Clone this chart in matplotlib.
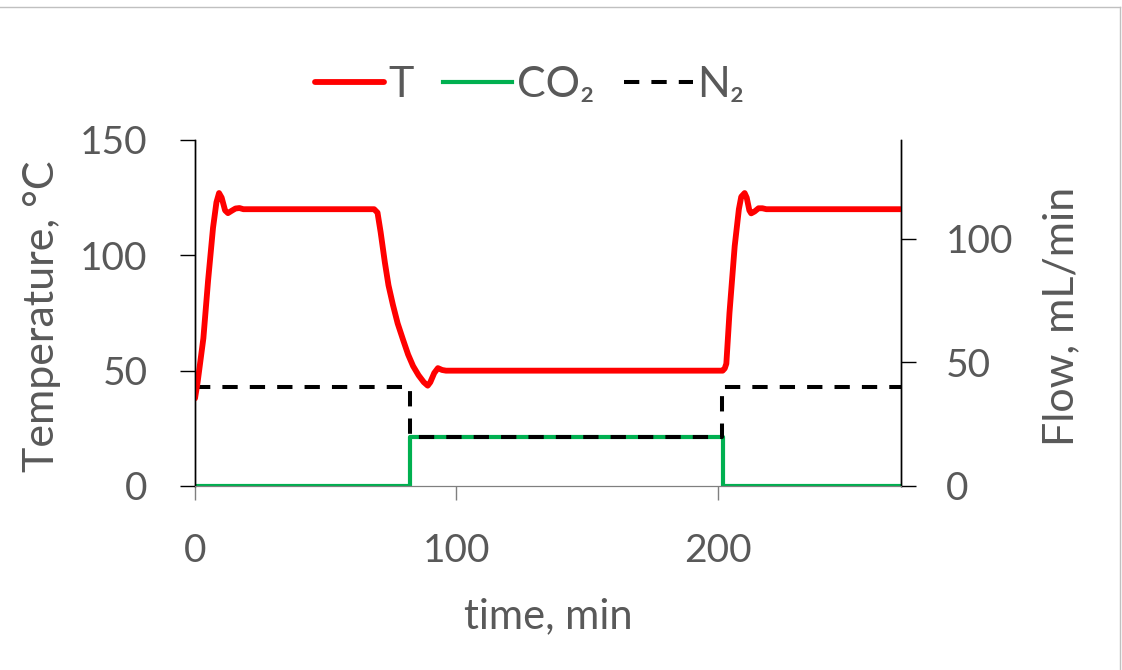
import matplotlib
matplotlib.use("Agg")
import matplotlib.pyplot as plt
from matplotlib.lines import Line2D

plt.rcParams['font.family'] = ['Lato', 'DejaVu Sans']
TXT = "#595959"

# temperature trace (min, degC)
t_temp = [0, 1, 3.2, 5, 6.9, 8.2, 9.2, 10.2, 11.5, 12.6, 14, 15.5, 17, 18.5,
          68.5, 69.8, 71, 72.6, 74, 75.7, 77.5, 79.6, 81.5, 83.4, 85.5, 87.5,
          89, 90, 91.5, 92.9, 94.5, 96,
          201.8, 202.6, 203.2, 204.4, 206.4, 208, 208.9, 210.2, 211, 212,
          212.7, 214, 215.5, 217, 218.5, 270]
temp = [38, 45, 64, 89, 112, 123, 127, 125, 119.5, 118.3, 119.3, 120.3, 120.5, 120,
        120, 118.5, 110, 97, 87, 78.5, 70.5, 63.3, 57, 52, 48, 45,
        43.5, 45, 49, 51.1, 50.3, 50,
        50, 51, 53, 75, 104, 120, 125.4, 127, 125, 119.5,
        118.2, 119, 120.4, 120.4, 120, 120]

# gas flows (mL/min), step changes
t_co2 = [0, 82.2, 202, 270]
co2 = [0, 20, 0, 0]
t_n2 = [0, 82.2, 201.6, 270]
n2 = [40, 20, 40, 40]

fig = plt.figure(figsize=(11.22, 6.70), dpi=100)
ax = fig.add_axes([195/1122, 1 - 486/670, 706/1122, 346/670])
ax2 = ax.twinx()
ax.set_zorder(ax2.get_zorder() + 1)
ax.patch.set_visible(False)

lT, = ax.plot(t_temp, temp, color="#FF0000", lw=4.2, solid_joinstyle="round",
              solid_capstyle="round", label="T")
lC, = ax2.plot(t_co2, co2, color="#00B050", lw=3, drawstyle="steps-post",
               label="CO₂")
lN, = ax2.plot(t_n2, n2, color="black", lw=2.9, drawstyle="steps-post",
               dashes=(3.8, 3.0), label="N₂")

ax.set_xlim(0, 270)
ax.set_ylim(0, 150)
ax.set_yticks([0, 50, 100, 150])
ax.set_xticks([0, 100, 200])
ax2.set_ylim(0, 140)
ax2.set_yticks([0, 50, 100])

for a in (ax, ax2):
    a.spines["top"].set_visible(False)
    a.spines["bottom"].set_color("#7f7f7f")
    a.spines["left"].set_linewidth(1)
    a.spines["right"].set_linewidth(1)
ax.tick_params(axis="y", length=11, width=1, pad=23, labelsize=28, labelcolor=TXT)
ax.tick_params(axis="x", length=10, width=1, color="#7f7f7f", pad=24,
               labelsize=28, labelcolor=TXT)
ax2.tick_params(axis="y", length=11, width=1, pad=21, labelsize=28, labelcolor=TXT)

ax.set_xlabel("time, min", fontsize=30, color=TXT)
ax.xaxis.set_label_coords(0.5, -0.32)
ax.set_ylabel("Temperature, °C", fontsize=31, color=TXT)
ax.yaxis.set_label_coords(-0.19, 0.49)
ax2.set_ylabel("Flow, mL/min", fontsize=31, color=TXT)
ax2.yaxis.set_label_coords(1.2, 0.49)

fig.legend(handles=[lT, lC, lN], loc="center", bbox_to_anchor=(0.472, 0.873),
           ncol=3, frameon=False, fontsize=31, labelcolor=TXT,
           handlelength=1.6, handletextpad=0.1, columnspacing=0.7)

# thin grey frame along top and right edges
fig.add_artist(Line2D([0, 0.998], [0.9896, 0.9896], transform=fig.transFigure,
                      color="#c0c0c0", lw=1))
fig.add_artist(Line2D([0.998, 0.998], [0, 0.9896], transform=fig.transFigure,
                      color="#c0c0c0", lw=1))

fig.savefig("out.png", dpi=100)
